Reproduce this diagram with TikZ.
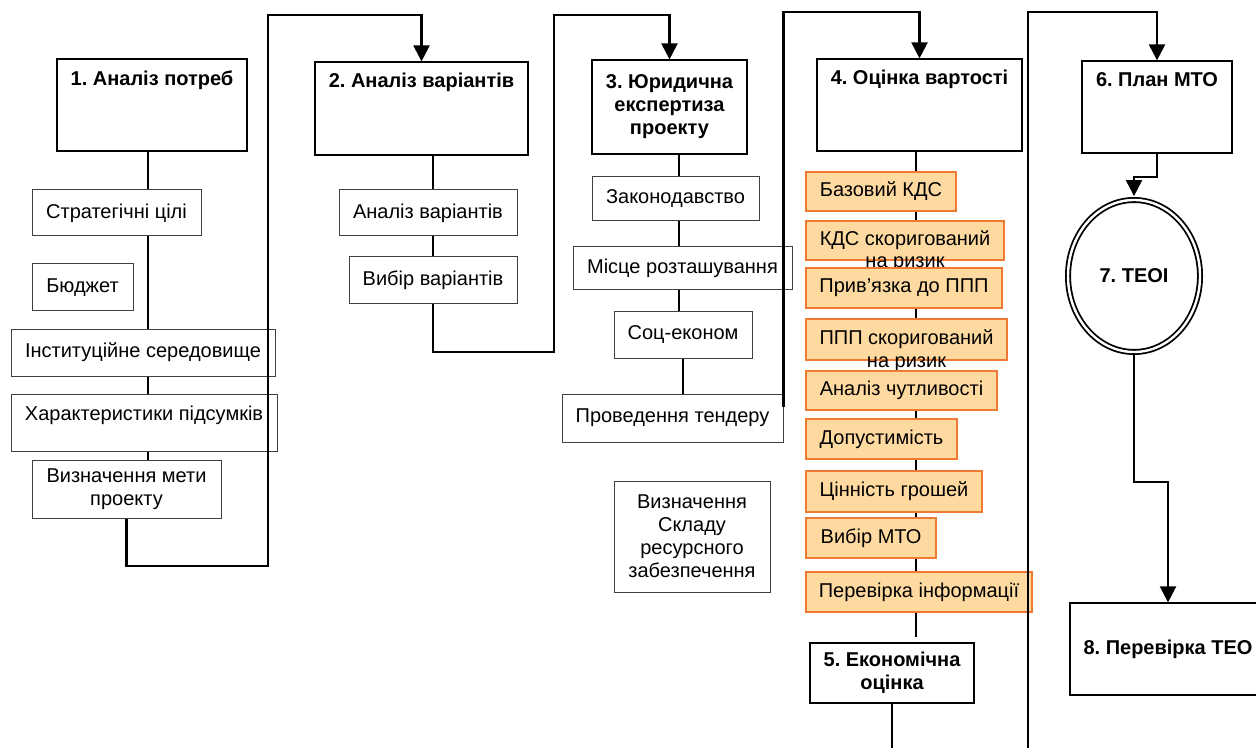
\documentclass[tikz,border=0pt]{standalone}
\usepackage{fontspec}
\setmainfont{Liberation Sans}
\usetikzlibrary{arrows.meta,shapes.geometric}
\frenchspacing

\definecolor{orfill}{RGB}{255,218,160}
\definecolor{orline}{RGB}{240,122,52}

\tikzset{
	txt/.style={font=\fontsize{10}{11.5}\selectfont, inner sep=2pt, align=center},
	stage/.style={txt, draw, line width=0.6pt, fill=white, font=\fontsize{10}{11.5}\selectfont\bfseries},
	item/.style={txt, draw=black!75, line width=0.5pt, fill=white},
	costitem/.style={txt, draw=orline, line width=0.6pt, fill=orfill},
	toptitle/.style={anchor=north, yshift=-2.5pt, font=\fontsize{10}{11.5}\selectfont\bfseries},
	risk/.style={anchor=base, yshift=-3.5pt, inner sep=0pt, font=\fontsize{10}{11.5}\selectfont},
	spine/.style={line width=0.8pt},
	flow/.style={line width=1.1pt, -{Triangle[width=8pt,length=8pt]}},
	link/.style={line width=1.1pt}
}

\begin{document}
\begin{tikzpicture}[x=0.5pt,y=-0.5pt]
	\clip (0,0) rectangle (1256,748);

	\node[stage, minimum width=95pt, minimum height=46pt, label={[toptitle]north:1. Аналіз потреб}] (need) at (152,105) {};
	\node[item, minimum width=84.5pt, minimum height=23pt] (goals) at (116.5,213) {Стратегічні цілі};
	\node[item, minimum width=50.5pt, minimum height=23.5pt] (budget) at (82.5,287.5) {Бюджет};
	\node[item, minimum width=132pt, minimum height=23.5pt] (inst) at (143,352.5) {Інституційне середовище};
	\node[item, minimum width=133pt, minimum height=28.5pt, text depth=9pt] (outcome) at (144,422.5) {Характеристики підсумків};
	\node[item, minimum width=94.5pt, minimum height=29pt] (purpose) at (126.5,489) {Визначення мети\\проекту};

	\node[stage, minimum width=106.5pt, minimum height=46.5pt, label={[toptitle]north:2. Аналіз варіантів}] (variants) at (421.5,108.5) {};
	\node[item, minimum width=89pt, minimum height=23pt] (varan) at (428,213) {Аналіз варіантів};
	\node[item, minimum width=84pt, minimum height=23.5pt] (varsel) at (433,280.5) {Вибір варіантів};

	\node[stage, minimum width=77.5pt, minimum height=47pt] (legal) at (669.5,107) {3. Юридична\\експертиза\\проекту};
	\node[item, minimum width=83.5pt, minimum height=22pt] (law) at (675.5,199) {Законодавство};
	\node[item, minimum width=109.5pt, minimum height=21.5pt] (site) at (682.5,268.5) {Місце розташування};
	\node[item, minimum width=69pt, minimum height=23pt] (soc) at (683,335) {Соц-економ};
	\node[item, minimum width=110.5pt, minimum height=24pt] (tender) at (672.5,418) {Проведення тендеру};
	\node[item, minimum width=78pt, minimum height=55.5pt] (resource) at (692,536.5) {Визначення\\Складу\\ресурсного\\забезпечення};

	\node[stage, minimum width=102.5pt, minimum height=46pt, label={[toptitle]north:4. Оцінка вартості}] (costing) at (919.5,105) {};
	\node[costitem, minimum width=75pt, minimum height=19.5pt] (kds) at (881,191.5) {Базовий КДС};
	\node[costitem, minimum width=99pt, minimum height=19.5pt, label={[risk]south:на ризик}] (kdsrisk) at (905,240.5) {КДС скоригований};
	\node[costitem, minimum width=98pt, minimum height=20pt] (bind) at (904,288) {Прив’язка до ППП};
	\node[costitem, minimum width=100.5pt, minimum height=20.5pt, label={[risk]south:на ризик}] (ppprisk) at (906.5,339.5) {ППП скоригований};
	\node[costitem, minimum width=95.5pt, minimum height=19.5pt] (sens) at (901.5,390.5) {Аналіз чутливості};
	\node[costitem, minimum width=75.5pt, minimum height=20pt] (admis) at (881.5,439) {Допустимість};
	\node[costitem, minimum width=88pt, minimum height=20.5pt] (money) at (894,491.5) {Цінність грошей};
	\node[costitem, minimum width=65pt, minimum height=20pt] (mtosel) at (871,538) {Вибір МТО};
	\node[costitem, minimum width=113pt, minimum height=20pt] (infocheck) at (919,592) {Перевірка інформації};
	\node[stage, minimum width=82pt, minimum height=30pt] (econ) at (892,673) {5. Економічна\\оцінка};

	\node[stage, minimum width=75pt, minimum height=46pt, label={[toptitle]north:6. План МТО}] (plan) at (1157,107) {};
	\node[ellipse, draw, double, double distance=1.2pt, line width=0.9pt, fill=white, minimum width=66pt, minimum height=76pt, font=\fontsize{10}{11.5}\selectfont\bfseries] (teo) at (1134,276) {7. ТЕОІ};
	\node[stage, minimum width=98pt, minimum height=46pt] (review) at (1168,649) {8. Перевірка ТЕО};

	\coordinate (s1) at (148,0);
	\coordinate (s3) at (679,0);
	\coordinate (s4) at (916,0);
	\coordinate (s4end) at (916,637);
	\coordinate (low1) at (268,566);
	\coordinate (up1) at (268,15);
	\coordinate (low2) at (554,352);
	\coordinate (up2) at (554,15);
	\coordinate (up3) at (784,12);
	\coordinate (off5) at (892,760);
	\coordinate (off6) at (1028,760);
	\coordinate (up6) at (1028,12);
	\coordinate (bend6) at (1134,177);
	\coordinate (bend7) at (1168,482);

	\foreach \a/\b in {need/goals, goals/inst, inst/outcome, outcome/purpose}
		\draw[spine] (s1 |- \a.south) -- (s1 |- \b.north);
	\foreach \a/\b in {variants/varan, varan/varsel}
		\draw[spine] (varsel.north |- \a.south) -- (varsel.north |- \b.north);
	\foreach \a/\b in {legal/law, law/site, site/soc}
		\draw[spine] (s3 |- \a.south) -- (s3 |- \b.north);
	\draw[spine] (soc.south) -- (soc.south |- tender.north);
	\foreach \a/\b in {costing/kds, kds/kdsrisk, bind/ppprisk, sens/admis, admis/money, money/mtosel, mtosel/infocheck}
		\draw[spine] (s4 |- \a.south) -- (s4 |- \b.north);
	\draw[spine] (s4 |- infocheck.south) -- (s4end);
	\draw[spine] (econ.south) -- (off5);

	\draw[flow] (purpose.south) |- (low1) -- (up1) -| (variants.north);
	\draw[flow] (varsel.south) |- (low2) -- (up2) -| (legal.north);
	\draw[flow] ([yshift=5.5pt]tender.east) |- (up3) -| (costing.north);
	\draw[flow] (off6) -- (up6) -| (plan.north);
	\draw[flow, shorten >=1.5pt] (plan.south) |- (bend6) -- (teo.north);
	\draw[flow] (teo.south) |- (bend7) -- (review.north);
\end{tikzpicture}
\end{document}
